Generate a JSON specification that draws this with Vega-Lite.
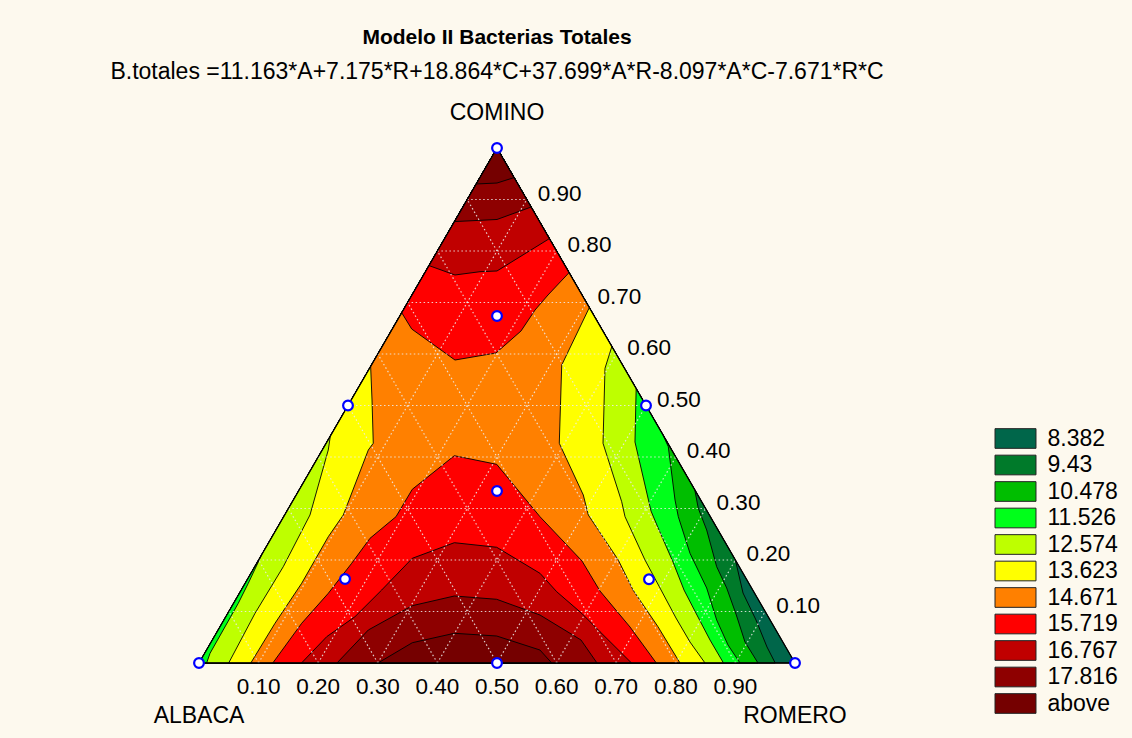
{
"$schema": "https://vega.github.io/schema/vega-lite/v6.json",
"width": 596, "height": 515,
"autosize": {"type": "none"},
"padding": {"left": 199, "top": 148, "right": 337, "bottom": 75},
"background": "#FDF9EE",
"config": {"view": {"stroke": null}},
"title": {"text": "Modelo II Bacterias Totales", "subtitle": "B.totales =11.163*A+7.175*R+18.864*C+37.699*A*R-8.097*A*C-7.671*R*C", "anchor": "middle", "frame": "group", "font": "Liberation Sans", "fontSize": 21, "fontWeight": "bold", "color": "#000000", "subtitleFont": "Liberation Sans", "subtitleFontSize": 23, "subtitleColor": "#000000", "subtitlePadding": 13, "offset": 18},
"datasets": {
"poly": [
{"p":"p0","k":"8.382","o":1,"x":0.5,"c":1},{"p":"p0","k":"8.382","o":2,"x":0,"c":0},{"p":"p0","k":"8.382","o":3,"x":1,"c":0},
{"p":"p1","k":"9.43","o":1,"x":0.5,"c":1},{"p":"p1","k":"9.43","o":2,"x":0,"c":0},{"p":"p1","k":"9.43","o":3,"x":0.9668,"c":0},{"p":"p1","k":"9.43","o":4,"x":0.953,"c":0.0311},{"p":"p1","k":"9.43","o":5,"x":0.9346,"c":0.0835},{"p":"p1","k":"9.43","o":6,"x":0.9128,"c":0.1359},{"p":"p1","k":"9.43","o":7,"x":0.9,"c":0.2},
{"p":"p2","k":"10.478","o":1,"x":0.5,"c":1},{"p":"p2","k":"10.478","o":2,"x":0,"c":0},{"p":"p2","k":"10.478","o":3,"x":0.9379,"c":0},{"p":"p2","k":"10.478","o":4,"x":0.9161,"c":0.0408},{"p":"p2","k":"10.478","o":5,"x":0.901,"c":0.0951},{"p":"p2","k":"10.478","o":6,"x":0.8854,"c":0.1456},{"p":"p2","k":"10.478","o":7,"x":0.8686,"c":0.187},{"p":"p2","k":"10.478","o":8,"x":0.8518,"c":0.2583},{"p":"p2","k":"10.478","o":9,"x":0.8377,"c":0.3004},{"p":"p2","k":"10.478","o":10,"x":0.8318,"c":0.3363},
{"p":"p3","k":"11.526","o":1,"x":0.5,"c":1},{"p":"p3","k":"11.526","o":2,"x":0,"c":0},{"p":"p3","k":"11.526","o":3,"x":0.9077,"c":0},{"p":"p3","k":"11.526","o":4,"x":0.8876,"c":0.035},{"p":"p3","k":"11.526","o":5,"x":0.8686,"c":0.0835},{"p":"p3","k":"11.526","o":6,"x":0.8518,"c":0.1456},{"p":"p3","k":"11.526","o":7,"x":0.8238,"c":0.213},{"p":"p3","k":"11.526","o":8,"x":0.8042,"c":0.2841},{"p":"p3","k":"11.526","o":9,"x":0.7987,"c":0.3165},{"p":"p3","k":"11.526","o":10,"x":0.7874,"c":0.42},{"p":"p3","k":"11.526","o":11,"x":0.7784,"c":0.4431},
{"p":"p4","k":"12.574","o":1,"x":0.5,"c":1},{"p":"p4","k":"12.574","o":2,"x":0.1058,"c":0.2117},{"p":"p4","k":"12.574","o":3,"x":0.0827,"c":0.1548},{"p":"p4","k":"12.574","o":4,"x":0.0659,"c":0.1159},{"p":"p4","k":"12.574","o":5,"x":0.0185,"c":0.0188},{"p":"p4","k":"12.574","o":6,"x":0.0128,"c":0},{"p":"p4","k":"12.574","o":7,"x":0.88,"c":0},{"p":"p4","k":"12.574","o":8,"x":0.8574,"c":0.0447},{"p":"p4","k":"12.574","o":9,"x":0.8372,"c":0.0893},{"p":"p4","k":"12.574","o":10,"x":0.8138,"c":0.1417},{"p":"p4","k":"12.574","o":11,"x":0.7953,"c":0.1961},{"p":"p4","k":"12.574","o":12,"x":0.7718,"c":0.2583},{"p":"p4","k":"12.574","o":13,"x":0.7584,"c":0.2951},{"p":"p4","k":"12.574","o":14,"x":0.7315,"c":0.4291},{"p":"p4","k":"12.574","o":15,"x":0.7335,"c":0.533},
{"p":"p5","k":"13.623","o":1,"x":0.5,"c":1},{"p":"p5","k":"13.623","o":2,"x":0.2204,"c":0.4408},{"p":"p5","k":"13.623","o":3,"x":0.2169,"c":0.4136},{"p":"p5","k":"13.623","o":4,"x":0.1862,"c":0.2874},{"p":"p5","k":"13.623","o":5,"x":0.1414,"c":0.187},{"p":"p5","k":"13.623","o":6,"x":0.094,"c":0.0965},{"p":"p5","k":"13.623","o":7,"x":0.0498,"c":0},{"p":"p5","k":"13.623","o":8,"x":0.849,"c":0},{"p":"p5","k":"13.623","o":9,"x":0.8238,"c":0.0408},{"p":"p5","k":"13.623","o":10,"x":0.8003,"c":0.0874},{"p":"p5","k":"13.623","o":11,"x":0.7735,"c":0.1456},{"p":"p5","k":"13.623","o":12,"x":0.7483,"c":0.2},{"p":"p5","k":"13.623","o":13,"x":0.7148,"c":0.2841},{"p":"p5","k":"13.623","o":14,"x":0.7092,"c":0.3132},{"p":"p5","k":"13.623","o":15,"x":0.6779,"c":0.4266},{"p":"p5","k":"13.623","o":16,"x":0.6812,"c":0.5722},{"p":"p5","k":"13.623","o":17,"x":0.6927,"c":0.6146},
{"p":"p6","k":"14.671","o":1,"x":0.5,"c":1},{"p":"p6","k":"14.671","o":2,"x":0.288,"c":0.5759},{"p":"p6","k":"14.671","o":3,"x":0.2903,"c":0.5107},{"p":"p6","k":"14.671","o":4,"x":0.2924,"c":0.4266},{"p":"p6","k":"14.671","o":5,"x":0.2841,"c":0.4136},{"p":"p6","k":"14.671","o":6,"x":0.2421,"c":0.2874},{"p":"p6","k":"14.671","o":7,"x":0.2169,"c":0.2452},{"p":"p6","k":"14.671","o":8,"x":0.1723,"c":0.1548},{"p":"p6","k":"14.671","o":9,"x":0.1275,"c":0.0771},{"p":"p6","k":"14.671","o":10,"x":0.0869,"c":0},{"p":"p6","k":"14.671","o":11,"x":0.807,"c":0},{"p":"p6","k":"14.671","o":12,"x":0.7701,"c":0.0705},{"p":"p6","k":"14.671","o":13,"x":0.7282,"c":0.1417},{"p":"p6","k":"14.671","o":14,"x":0.7035,"c":0.2},{"p":"p6","k":"14.671","o":15,"x":0.6532,"c":0.2874},{"p":"p6","k":"14.671","o":16,"x":0.6448,"c":0.3262},{"p":"p6","k":"14.671","o":17,"x":0.6045,"c":0.4266},{"p":"p6","k":"14.671","o":18,"x":0.6086,"c":0.5786},{"p":"p6","k":"14.671","o":19,"x":0.6549,"c":0.6901},
{"p":"p7a","k":"15.719","o":1,"x":0.5,"c":1},{"p":"p7a","k":"15.719","o":2,"x":0.3401,"c":0.6802},{"p":"p7a","k":"15.719","o":3,"x":0.3569,"c":0.6485},{"p":"p7a","k":"15.719","o":4,"x":0.4295,"c":0.5883},{"p":"p7a","k":"15.719","o":5,"x":0.4983,"c":0.6019},{"p":"p7a","k":"15.719","o":6,"x":0.5403,"c":0.6447},{"p":"p7a","k":"15.719","o":7,"x":0.5638,"c":0.6854},{"p":"p7a","k":"15.719","o":8,"x":0.5856,"c":0.7146},{"p":"p7a","k":"15.719","o":9,"x":0.621,"c":0.7581},
{"p":"p7b","k":"15.719","o":1,"x":0.1238,"c":0},{"p":"p7b","k":"15.719","o":2,"x":0.1723,"c":0.0771},{"p":"p7b","k":"15.719","o":3,"x":0.2169,"c":0.1353},{"p":"p7b","k":"15.719","o":4,"x":0.2562,"c":0.1936},{"p":"p7b","k":"15.719","o":5,"x":0.2869,"c":0.2421},{"p":"p7b","k":"15.719","o":6,"x":0.3305,"c":0.2841},{"p":"p7b","k":"15.719","o":7,"x":0.3579,"c":0.3373},{"p":"p7b","k":"15.719","o":8,"x":0.4284,"c":0.4025},{"p":"p7b","k":"15.719","o":9,"x":0.4995,"c":0.3858},{"p":"p7b","k":"15.719","o":10,"x":0.5721,"c":0.2841},{"p":"p7b","k":"15.719","o":11,"x":0.6426,"c":0.1981},{"p":"p7b","k":"15.719","o":12,"x":0.6728,"c":0.1398},{"p":"p7b","k":"15.719","o":13,"x":0.7232,"c":0.0699},{"p":"p7b","k":"15.719","o":14,"x":0.7673,"c":0},
{"p":"p8a","k":"16.767","o":1,"x":0.5,"c":1},{"p":"p8a","k":"16.767","o":2,"x":0.3858,"c":0.7717},{"p":"p8a","k":"16.767","o":3,"x":0.4295,"c":0.7534},{"p":"p8a","k":"16.767","o":4,"x":0.4715,"c":0.7598},{"p":"p8a","k":"16.767","o":5,"x":0.5,"c":0.7612},{"p":"p8a","k":"16.767","o":6,"x":0.588,"c":0.8241},
{"p":"p8b","k":"16.767","o":1,"x":0.172,"c":0},{"p":"p8b","k":"16.767","o":2,"x":0.2143,"c":0.0511},{"p":"p8b","k":"16.767","o":3,"x":0.2617,"c":0.0899},{"p":"p8b","k":"16.767","o":4,"x":0.3065,"c":0.1417},{"p":"p8b","k":"16.767","o":5,"x":0.3579,"c":0.2033},{"p":"p8b","k":"16.767","o":6,"x":0.4284,"c":0.2336},{"p":"p8b","k":"16.767","o":7,"x":0.4995,"c":0.2247},{"p":"p8b","k":"16.767","o":8,"x":0.5721,"c":0.1742},{"p":"p8b","k":"16.767","o":9,"x":0.6002,"c":0.1384},{"p":"p8b","k":"16.767","o":10,"x":0.6421,"c":0.0965},{"p":"p8b","k":"16.767","o":11,"x":0.6728,"c":0.0608},{"p":"p8b","k":"16.767","o":12,"x":0.7257,"c":0},
{"p":"p9a","k":"17.816","o":1,"x":0.5,"c":1},{"p":"p9a","k":"17.816","o":2,"x":0.4286,"c":0.8571},{"p":"p9a","k":"17.816","o":3,"x":0.5,"c":0.8612},{"p":"p9a","k":"17.816","o":4,"x":0.5573,"c":0.8854},
{"p":"p9b","k":"17.816","o":1,"x":0.2315,"c":0},{"p":"p9b","k":"17.816","o":2,"x":0.2841,"c":0.0641},{"p":"p9b","k":"17.816","o":3,"x":0.3579,"c":0.1113},{"p":"p9b","k":"17.816","o":4,"x":0.4284,"c":0.1301},{"p":"p9b","k":"17.816","o":5,"x":0.4995,"c":0.1237},{"p":"p9b","k":"17.816","o":6,"x":0.5721,"c":0.0932},{"p":"p9b","k":"17.816","o":7,"x":0.6409,"c":0.0447},{"p":"p9b","k":"17.816","o":8,"x":0.6678,"c":0},
{"p":"p10a","k":"above","o":1,"x":0.5,"c":1},{"p":"p10a","k":"above","o":2,"x":0.465,"c":0.9301},{"p":"p10a","k":"above","o":3,"x":0.5,"c":0.932},{"p":"p10a","k":"above","o":4,"x":0.5287,"c":0.9425},
{"p":"p10b","k":"above","o":1,"x":0.3003,"c":0},{"p":"p10b","k":"above","o":2,"x":0.3579,"c":0.0394},{"p":"p10b","k":"above","o":3,"x":0.4284,"c":0.0577},{"p":"p10b","k":"above","o":4,"x":0.4995,"c":0.0524},{"p":"p10b","k":"above","o":5,"x":0.5721,"c":0.0252},{"p":"p10b","k":"above","o":6,"x":0.5918,"c":0}
],
"grid": [
{"x1":0.05,"c1":0.1,"x2":0.95,"c2":0.1},{"x1":0.1,"c1":0.2,"x2":0.9,"c2":0.2},{"x1":0.15,"c1":0.3,"x2":0.85,"c2":0.3},{"x1":0.2,"c1":0.4,"x2":0.8,"c2":0.4},{"x1":0.25,"c1":0.5,"x2":0.75,"c2":0.5},{"x1":0.3,"c1":0.6,"x2":0.7,"c2":0.6},{"x1":0.35,"c1":0.7,"x2":0.65,"c2":0.7},{"x1":0.4,"c1":0.8,"x2":0.6,"c2":0.8},{"x1":0.45,"c1":0.9,"x2":0.55,"c2":0.9},
{"x1":0.1,"c1":0,"x2":0.55,"c2":0.9},{"x1":0.2,"c1":0,"x2":0.6,"c2":0.8},{"x1":0.3,"c1":0,"x2":0.65,"c2":0.7},{"x1":0.4,"c1":0,"x2":0.7,"c2":0.6},{"x1":0.5,"c1":0,"x2":0.75,"c2":0.5},{"x1":0.6,"c1":0,"x2":0.8,"c2":0.4},{"x1":0.7,"c1":0,"x2":0.85,"c2":0.3},{"x1":0.8,"c1":0,"x2":0.9,"c2":0.2},{"x1":0.9,"c1":0,"x2":0.95,"c2":0.1},
{"x1":0.9,"c1":0,"x2":0.45,"c2":0.9},{"x1":0.8,"c1":0,"x2":0.4,"c2":0.8},{"x1":0.7,"c1":0,"x2":0.35,"c2":0.7},{"x1":0.6,"c1":0,"x2":0.3,"c2":0.6},{"x1":0.5,"c1":0,"x2":0.25,"c2":0.5},{"x1":0.4,"c1":0,"x2":0.2,"c2":0.4},{"x1":0.3,"c1":0,"x2":0.15,"c2":0.3},{"x1":0.2,"c1":0,"x2":0.1,"c2":0.2},{"x1":0.1,"c1":0,"x2":0.05,"c2":0.1}
],
"tri": [{"o":1,"x":0.5,"c":1},{"o":2,"x":0,"c":0},{"o":3,"x":1,"c":0}],
"pts": [{"x":0.5,"c":1},{"x":0,"c":0},{"x":1,"c":0},{"x":0.25,"c":0.5},{"x":0.75,"c":0.5},{"x":0.5,"c":0},{"x":0.5,"c":0.334},{"x":0.5,"c":0.6738},{"x":0.245,"c":0.1631},{"x":0.755,"c":0.1625}],
"rticks": [{"t":"0.10","x":0.95,"c":0.1},{"t":"0.20","x":0.9,"c":0.2},{"t":"0.30","x":0.85,"c":0.3},{"t":"0.40","x":0.8,"c":0.4},{"t":"0.50","x":0.75,"c":0.5},{"t":"0.60","x":0.7,"c":0.6},{"t":"0.70","x":0.65,"c":0.7},{"t":"0.80","x":0.6,"c":0.8},{"t":"0.90","x":0.55,"c":0.9}],
"bticks": [{"t":"0.10","x":0.1,"c":0},{"t":"0.20","x":0.2,"c":0},{"t":"0.30","x":0.3,"c":0},{"t":"0.40","x":0.4,"c":0},{"t":"0.50","x":0.5,"c":0},{"t":"0.60","x":0.6,"c":0},{"t":"0.70","x":0.7,"c":0},{"t":"0.80","x":0.8,"c":0},{"t":"0.90","x":0.9,"c":0}],
"topv": [{"t":"COMINO","x":0.5,"c":1}],
"botv": [{"t":"ALBACA","x":0,"c":0},{"t":"ROMERO","x":1,"c":0}]
},
"layer": [
{
"data": {"name": "poly"},
"encoding": {
"x": {"field": "x", "type": "quantitative", "scale": {"domain": [0, 1], "nice": false, "zero": false}, "axis": null},
"y": {"field": "c", "type": "quantitative", "scale": {"domain": [0, 1], "nice": false, "zero": false}, "axis": null},
"order": {"field": "o", "type": "quantitative"},
"detail": {"field": "p", "type": "nominal"},
"fill": {"field": "k", "type": "nominal",
"scale": {"domain": ["8.382","9.43","10.478","11.526","12.574","13.623","14.671","15.719","16.767","17.816","above"],
"range": ["#00664A","#007A2A","#00BE00","#00FF1A","#BEFF00","#FFFF00","#FF8000","#FF0000","#C00000","#8E0000","#750000"]},
"legend": {"title": null, "orient": "none", "legendX": 805, "legendY": 279, "symbolType": "M-2,-0.96H2V0.96H-2Z", "symbolSize": 420, "symbolStrokeColor": "#222222", "symbolStrokeWidth": 1, "symbolOpacity": 1, "labelFont": "Liberation Sans", "labelFontSize": 23, "labelColor": "#000000", "labelOffset": 20.5, "rowPadding": 1.5, "labelLimit": 200}}
},
"layer": [
{"transform": [{"filter": "datum.k == '8.382'"}], "mark": {"type": "line", "interpolate": "linear-closed", "stroke": "#000000", "strokeWidth": 0.9}},
{"transform": [{"filter": "datum.k == '9.43'"}], "mark": {"type": "line", "interpolate": "linear-closed", "stroke": "#000000", "strokeWidth": 0.9}},
{"transform": [{"filter": "datum.k == '10.478'"}], "mark": {"type": "line", "interpolate": "linear-closed", "stroke": "#000000", "strokeWidth": 0.9}},
{"transform": [{"filter": "datum.k == '11.526'"}], "mark": {"type": "line", "interpolate": "linear-closed", "stroke": "#000000", "strokeWidth": 0.9}},
{"transform": [{"filter": "datum.k == '12.574'"}], "mark": {"type": "line", "interpolate": "linear-closed", "stroke": "#000000", "strokeWidth": 0.9}},
{"transform": [{"filter": "datum.k == '13.623'"}], "mark": {"type": "line", "interpolate": "linear-closed", "stroke": "#000000", "strokeWidth": 0.9}},
{"transform": [{"filter": "datum.k == '14.671'"}], "mark": {"type": "line", "interpolate": "linear-closed", "stroke": "#000000", "strokeWidth": 0.9}},
{"transform": [{"filter": "datum.k == '15.719'"}], "mark": {"type": "line", "interpolate": "linear-closed", "stroke": "#000000", "strokeWidth": 0.9}},
{"transform": [{"filter": "datum.k == '16.767'"}], "mark": {"type": "line", "interpolate": "linear-closed", "stroke": "#000000", "strokeWidth": 0.9}},
{"transform": [{"filter": "datum.k == '17.816'"}], "mark": {"type": "line", "interpolate": "linear-closed", "stroke": "#000000", "strokeWidth": 0.9}},
{"transform": [{"filter": "datum.k == 'above'"}], "mark": {"type": "line", "interpolate": "linear-closed", "stroke": "#000000", "strokeWidth": 0.9}}
]
},
{
"data": {"name": "grid"},
"mark": {"type": "rule", "stroke": "#EDEDED", "strokeWidth": 1.2, "strokeDash": [1.5, 2.5], "opacity": 0.85},
"encoding": {
"x": {"field": "x1", "type": "quantitative", "axis": null},
"y": {"field": "c1", "type": "quantitative", "axis": null},
"x2": {"field": "x2"},
"y2": {"field": "c2"}
}
},
{
"data": {"name": "tri"},
"mark": {"type": "line", "interpolate": "linear-closed", "stroke": "#000000", "strokeWidth": 1.3},
"encoding": {
"x": {"field": "x", "type": "quantitative", "axis": null},
"y": {"field": "c", "type": "quantitative", "axis": null},
"order": {"field": "o", "type": "quantitative"}
}
},
{
"data": {"name": "pts"},
"mark": {"type": "point", "shape": "circle", "filled": true, "fill": "#FFFFFF", "stroke": "#0000FF", "strokeWidth": 2.2, "size": 95, "opacity": 1},
"encoding": {
"x": {"field": "x", "type": "quantitative", "axis": null},
"y": {"field": "c", "type": "quantitative", "axis": null}
}
},
{
"data": {"name": "rticks"},
"mark": {"type": "text", "align": "left", "baseline": "middle", "dx": 11, "dy": -6, "font": "Liberation Sans", "fontSize": 22.5, "fill": "#000000"},
"encoding": {
"x": {"field": "x", "type": "quantitative", "axis": null},
"y": {"field": "c", "type": "quantitative", "axis": null},
"text": {"field": "t"}
}
},
{
"data": {"name": "bticks"},
"mark": {"type": "text", "align": "center", "baseline": "middle", "dy": 24, "font": "Liberation Sans", "fontSize": 22.5, "fill": "#000000"},
"encoding": {
"x": {"field": "x", "type": "quantitative", "axis": null},
"y": {"field": "c", "type": "quantitative", "axis": null},
"text": {"field": "t"}
}
},
{
"data": {"name": "topv"},
"mark": {"type": "text", "align": "center", "baseline": "middle", "dy": -35, "font": "Liberation Sans", "fontSize": 23, "fill": "#000000"},
"encoding": {
"x": {"field": "x", "type": "quantitative", "axis": null},
"y": {"field": "c", "type": "quantitative", "axis": null},
"text": {"field": "t"}
}
},
{
"data": {"name": "botv"},
"mark": {"type": "text", "align": "center", "baseline": "middle", "dy": 53, "font": "Liberation Sans", "fontSize": 23, "fill": "#000000"},
"encoding": {
"x": {"field": "x", "type": "quantitative", "axis": null},
"y": {"field": "c", "type": "quantitative", "axis": null},
"text": {"field": "t"}
}
}
]
}
